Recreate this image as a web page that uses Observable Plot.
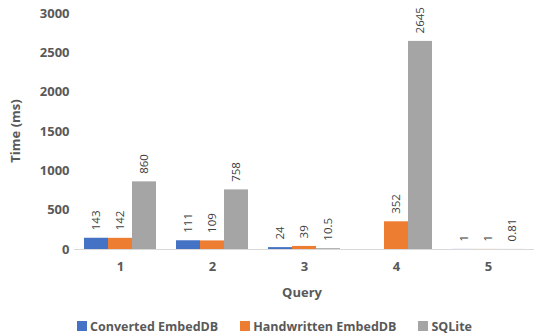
<!DOCTYPE html>
<html><head><meta charset="utf-8">
<script src="https://cdn.jsdelivr.net/npm/d3@7"></script>
<script src="https://cdn.jsdelivr.net/npm/@observablehq/plot@0.6"></script>
<style>
body{margin:0;background:#fff;font-family:"Open Sans",sans-serif;}
#wrap{width:534px;}
#wrap svg{display:block;}
.xlab{margin-left:74px;width:456px;height:18px;line-height:18px;text-align:center;font-size:13px;font-weight:700;color:#595959;}
.legend{width:534px;margin-top:16px;height:18px;display:flex;justify-content:center;align-items:center;gap:22px;font-size:12.5px;font-weight:700;color:#595959;padding-left:15px;box-sizing:border-box;}
.legend .item{display:flex;align-items:center;gap:3px;}
.legend .sw{display:inline-block;width:10px;height:10px;}
</style></head><body><div id="wrap"></div><script>
const queries = ["1", "2", "3", "4", "5"];
const series = ["Converted EmbedDB", "Handwritten EmbedDB", "SQLite"];
const converted = [143, 111, 24, null, 1];
const handwritten = [142, 109, 39, 352, 1];
const sqlite = [860, 758, 10.5, 2645, 0.81];
const colors = ["#4472C4", "#ED7D31", "#A5A5A5"];
const yTicks = [0, 500, 1000, 1500, 2000, 2500, 3000];
const yLabel = "Time (ms)";
const xLabel = "Query";

const wrap = document.getElementById("wrap");
const valuesBySeries = [converted, handwritten, sqlite];
const rows = [];
queries.forEach((q, i) => {
  series.forEach((s, j) => {
    const v = valuesBySeries[j][i];
    if (v != null) rows.push({query: q, series: s, value: v});
  });
});

const chart = Plot.plot({
  width: 534,
  height: 283,
  marginLeft: 74,
  marginRight: 0,
  marginTop: 13,
  marginBottom: 34,
  style: {fontFamily: "'Open Sans', sans-serif", background: "#fff"},
  fx: {domain: queries, paddingInner: 0.2, paddingOuter: 0.1, axis: "bottom", tickSize: 0, tickPadding: 12, label: null},
  x: {domain: series, padding: 0, axis: null},
  y: {domain: [0, 3000], ticks: yTicks, tickFormat: d => String(d), tickSize: 0, tickPadding: 14, label: null},
  color: {domain: series, range: colors},
  marks: [
    Plot.barY(rows, {fx: "query", x: "series", y: "value", fill: "series"}),
    Plot.ruleY([0], {stroke: "#d9d9d9", strokeWidth: 1, insetLeft: -9, insetRight: -9}),
    Plot.text(rows, {fx: "query", x: "series", y: "value", text: d => String(d.value), rotate: -90, textAnchor: "start", dy: -8, fontSize: 11.5, fill: "#404040"})
  ]
});
wrap.appendChild(chart);

const xl = document.createElement("div");
xl.className = "xlab"; xl.textContent = xLabel;
wrap.appendChild(xl);
const lg = document.createElement("div");
lg.className = "legend";
series.forEach((s, j) => {
  const it = document.createElement("span"); it.className = "item";
  const sw = document.createElement("span"); sw.className = "sw"; sw.style.background = colors[j];
  const t = document.createElement("span"); t.textContent = s;
  it.appendChild(sw); it.appendChild(t); lg.appendChild(it);
});
wrap.appendChild(lg);

try {
  const svg = d3.select(chart);
  svg.selectAll("g[aria-label='y-axis tick label'], g[aria-label='fx-axis tick label'], g[aria-label='y-axis'], g[aria-label='fx-axis']")
    .attr("font-size", 13).attr("font-weight", 700).attr("fill", "#595959");
  svg.append("text")
    .attr("transform", "translate(17,131) rotate(-90)")
    .attr("text-anchor", "middle").attr("dominant-baseline", "middle")
    .attr("font-size", 13).attr("font-weight", 700).attr("fill", "#595959")
    .text(yLabel);
} catch (e) { console.error(e); }
</script></body></html>
